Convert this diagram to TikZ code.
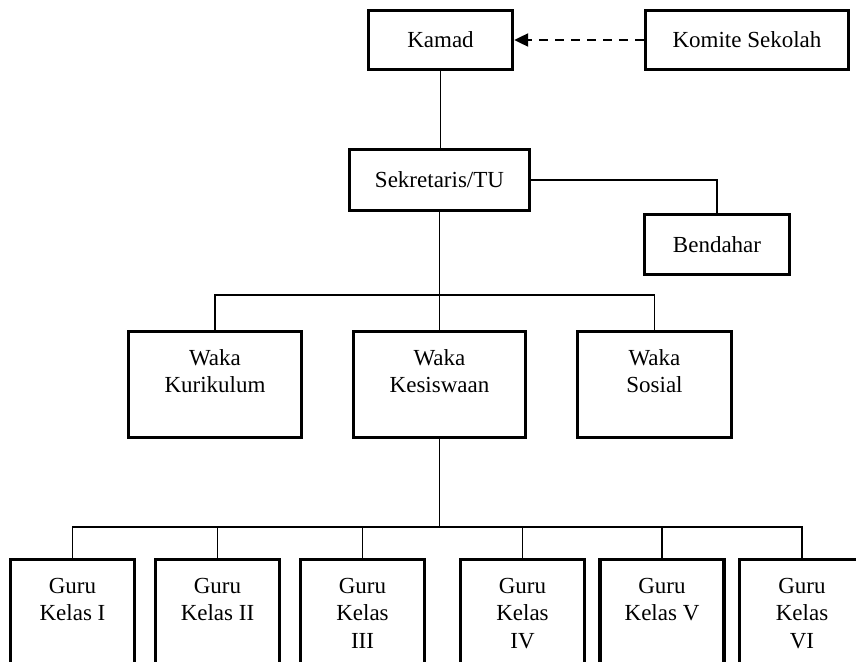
\documentclass[tikz,border=0pt]{standalone}
\usepackage{fontspec}
\setmainfont{Liberation Serif}
\usetikzlibrary{arrows.meta}
\tikzset{
  box/.style={draw, line width=3.4pt, rectangle, inner sep=0pt, fill=white,
    font=\fontsize{23}{27.5}\selectfont, align=center},
  lbl/.style={anchor=north, inner sep=0pt, align=center,
    font=\fontsize{23}{27.5}\selectfont},
  conn/.style={line width=1.3pt},
}
\begin{document}
\begin{tikzpicture}[x=1pt, y=-1pt]
\useasboundingbox (0,0) rectangle (856,661);
\clip (0,0) rectangle (856,661);
% top
\node[box, minimum width=144pt, minimum height=59pt] (kamad) at (440.5,40) {Kamad};
\node[box, minimum width=203pt, minimum height=59pt] (komite) at (747,40) {Komite Sekolah};
\node[box, minimum width=180pt, minimum height=61pt] (sek) at (439.5,180) {Sekretaris/TU};
\node[box, minimum width=145pt, minimum height=60pt] (bend) at (717,244.5) {Bendahar};
% waka
\node[box, minimum width=173pt, minimum height=106pt,
  label={[lbl, yshift=-19.5pt]north:Waka\\Kurikulum}] (wkur) at (215,384.5) {};
\node[box, minimum width=172pt, minimum height=106pt,
  label={[lbl, yshift=-19.5pt]north:Waka\\Kesiswaan}] (wkes) at (439.5,384.5) {};
\node[box, minimum width=154pt, minimum height=106pt,
  label={[lbl, yshift=-19.5pt]north:Waka\\Sosial}] (wsos) at (654.5,384.5) {};
% guru
\node[box, minimum width=124pt, minimum height=130pt,
  label={[lbl, yshift=-20pt]north:Guru\\Kelas I}] (g1) at (72.5,624.5) {};
\node[box, minimum width=124pt, minimum height=130pt,
  label={[lbl, yshift=-20pt]north:Guru\\Kelas II}] (g2) at (217.5,624.5) {};
\node[box, minimum width=124pt, minimum height=130pt,
  label={[lbl, yshift=-20pt]north:Guru\\Kelas\\III}] (g3) at (362.5,624.5) {};
\node[box, minimum width=124pt, minimum height=130pt,
  label={[lbl, yshift=-20pt]north:Guru\\Kelas\\IV}] (g4) at (522.5,624.5) {};
\node[box, minimum width=124pt, minimum height=130pt,
  label={[lbl, yshift=-20pt]north:Guru\\Kelas V}] (g5) at (662,624.5) {};
\node[box, minimum width=125pt, minimum height=130pt,
  label={[lbl, yshift=-20pt]north:Guru\\Kelas\\VI}] (g6) at (802,624.5) {};
% bus coordinates
\coordinate (busA) at (441,295);
\coordinate (busB) at (441,527);
% connectors
\draw[line width=2.2pt, dash pattern=on 9pt off 7pt, -{Triangle[length=14pt,width=13pt]}]
  (komite.west) -- (kamad.east);
\draw[conn] (kamad.south) -- (kamad.south |- sek.north);
\draw[conn] (sek.east) -| (bend.north);
\draw[conn] (sek.south) -- (sek.south |- busA);
\draw[conn] (wkur.north) |- (busA) -| (wsos.north);
\draw[conn] (wkes.north) -- (wkes.north |- busA);
\draw[conn] (wkes.south) -- (wkes.south |- busB);
\draw[conn] (g1.north) |- (busB) -| (g6.north);
\draw[conn] (g2.north) -- (g2.north |- busB);
\draw[conn] (g3.north) -- (g3.north |- busB);
\draw[conn] (g4.north) -- (g4.north |- busB);
\draw[conn] (g5.north) -- (g5.north |- busB);
\end{tikzpicture}
\end{document}
